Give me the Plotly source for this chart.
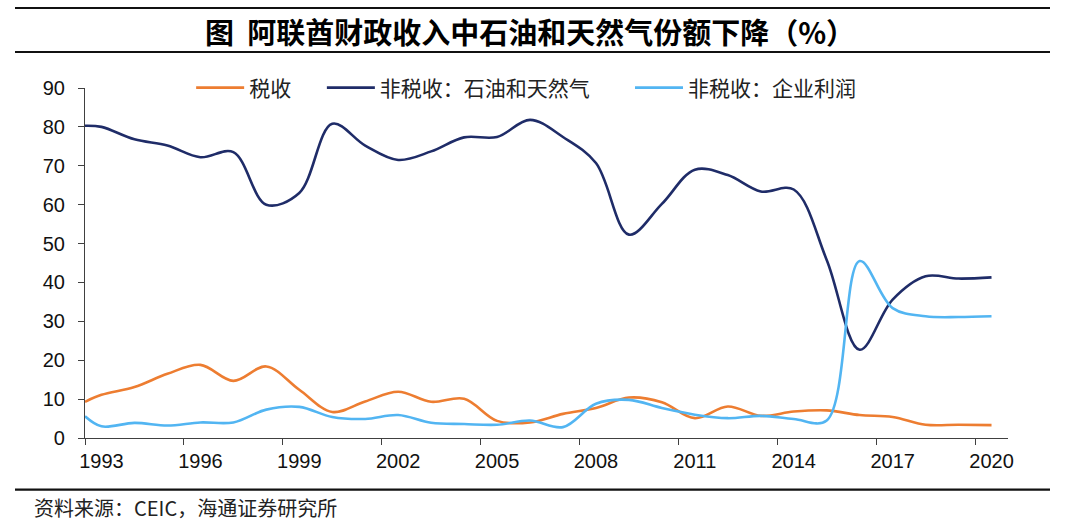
import plotly.graph_objects as go

# 数据：阿联酋财政收入构成（%），年度
years = list(range(1993, 2021))

# 首个值为1993年初（坐标轴起点）
tax_start = 9.3
oil_start = 80.3
profit_start = 5.6

tax = [11.1, 13.1, 16.5, 18.8, 14.7, 18.4, 12.4, 6.7, 9.4, 11.9, 9.3, 10.1, 4.4, 4.0,
       6.2, 7.7, 10.4, 9.2, 5.1, 8.1, 5.7, 6.8, 7.1, 5.9, 5.4, 3.4, 3.4, 3.3]
oil_gas = [80.0, 76.8, 75.2, 72.2, 73.5, 60.0, 63.0, 80.8, 75.2, 71.5, 73.7, 77.3, 77.4, 81.8,
           77.4, 70.7, 52.3, 60.2, 69.0, 67.6, 63.4, 63.9, 45.8, 22.7, 35.6, 41.6, 41.0, 41.3]
profit = [3.0, 3.9, 3.2, 4.0, 4.0, 7.3, 8.0, 5.4, 4.9, 5.9, 3.9, 3.6, 3.4, 4.5,
          2.8, 8.8, 9.8, 7.7, 6.0, 5.1, 5.7, 4.9, 4.5, 45.5, 33.4, 31.3, 31.1, 31.3]

tick_years = years[::3]

# each year sits in the middle of its category
x_pos = [years[0]] + [y + 0.5 for y in years]

pad = "\u3000\u00a0"  # extra gap between legend entries
series = [
    ("税收" + pad, [tax_start] + tax, "#ED7D31"),
    ("非税收：石油和天然气" + pad + "\u00a0\u00a0", [oil_start] + oil_gas, "#1F2C68"),
    ("非税收：企业利润", [profit_start] + profit, "#52B5F2"),
]

fig = go.Figure()
for name, vals, color in series:
    fig.add_trace(go.Scatter(
        x=x_pos, y=vals, name=name, mode="lines",
        line=dict(color=color, width=2.6, shape="spline", smoothing=1.0),
    ))

axis_color = "#404040"
tick_font = dict(family="Liberation Sans, Arial", size=20, color="#111111")

fig.update_layout(
    width=1080, height=529,
    margin=dict(l=85, r=72, t=88, b=91),
    plot_bgcolor="white", paper_bgcolor="white",
    font=dict(family="Noto Sans CJK SC", color="#111111"),
    showlegend=True,
    legend=dict(
        orientation="h", x=0.115, y=1.0, xanchor="left", yanchor="middle",
        font=dict(family="Noto Sans CJK SC", size=21, color="#222222"),
        itemwidth=48, bgcolor="rgba(0,0,0,0)",
    ),
    xaxis=dict(
        range=[1993, 2021], tickvals=tick_years, ticktext=[""] * len(tick_years),
        ticks="outside", ticklen=6, tickcolor=axis_color,
        showline=True, linecolor=axis_color, linewidth=1.2,
        showgrid=False, zeroline=False,
    ),
    xaxis2=dict(
        range=[1993, 2021], overlaying="x", side="bottom", anchor="y",
        tickvals=[y + 0.5 for y in tick_years], ticktext=[str(y) for y in tick_years],
        ticks="", showline=False, showgrid=False, zeroline=False,
        tickfont=tick_font, ticklabelstandoff=9,
    ),
    yaxis=dict(
        range=[0, 90], dtick=10, ticks="outside", ticklen=6, tickcolor=axis_color,
        showline=True, linecolor=axis_color, linewidth=1.2,
        showgrid=False, zeroline=False, tickfont=tick_font, ticklabelstandoff=9,
    ),
)

# dummy trace so xaxis2 labels are drawn
fig.add_trace(go.Scatter(x=[1993], y=[0], xaxis="x2", mode="markers",
                         marker=dict(opacity=0), showlegend=False, hoverinfo="skip"))

# title, rules and source line
fig.add_annotation(
    text="<b>图  阿联酋财政收入中石油和天然气份额下降（%）</b>",
    xref="paper", yref="paper", x=(530 - 85) / 923, y=(438.3 - 31) / 350,
    xanchor="center", yanchor="middle", showarrow=False,
    font=dict(family="Noto Sans CJK SC", size=29, color="#000000"),
)
fig.add_annotation(
    text="资料来源：CEIC，海通证券研究所",
    xref="paper", yref="paper", x=(32 - 85) / 923, y=(438.3 - 508) / 350,
    xanchor="left", yanchor="middle", showarrow=False,
    font=dict(family="Noto Sans CJK SC", size=20, color="#222222"),
)
for py in [8.3, 52.3, 490]:
    fig.add_shape(type="line", xref="paper", yref="paper",
                  x0=(15 - 85) / 923, x1=(1050 - 85) / 923,
                  y0=(438.3 - py) / 350, y1=(438.3 - py) / 350,
                  line=dict(color="#111111", width=2.2))

# page body has an 8px default margin; drop it so the figure sits at 0,0
fig.write_html("out.html", config={"displayModeBar": False},
               post_script="document.body.style.margin='0';")
